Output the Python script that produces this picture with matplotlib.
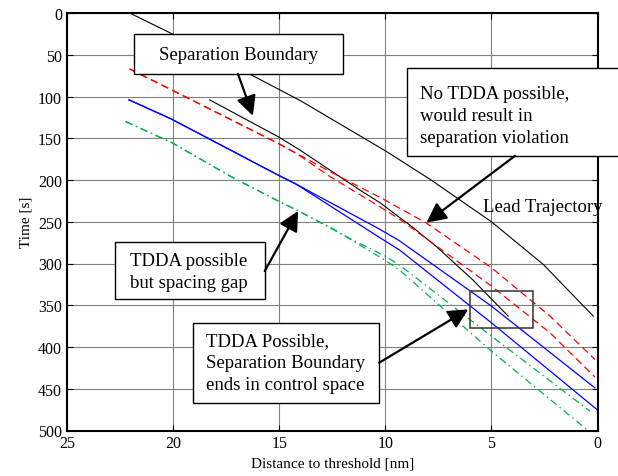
import matplotlib
matplotlib.use("Agg")
import matplotlib.pyplot as plt
from matplotlib.patches import Rectangle

plt.rcParams['font.family'] = ['Liberation Serif', 'DejaVu Serif']

# data: distance [nm] and time [s]
lead_d = [22.05, 20.2, 16.55, 14.0, 11.2, 10.0, 7.9, 5.0, 2.56, 0.2]
lead_t = [0, 23, 71, 105, 147, 165, 199, 250, 301, 363]

sep_d = [18.28, 15.06, 14.03, 11.2, 10.26, 8.69, 7.58, 5.86, 4.21]
sep_t = [104, 148, 164, 212, 227, 257, 280, 320, 363]

red1_d = [22.05, 20.08, 15.06, 14.2, 12.6, 10.02, 8.1, 5.0, 2.24, 0.12]
red1_t = [67, 92, 156, 168, 190, 224, 251, 305, 363, 415]
red2_d = [22.05, 20.08, 15.06, 14.2, 12.6, 10.26, 9.32, 5.0, 2.24, 0.12]
red2_t = [67, 92, 156, 168, 196, 232, 247, 327, 383, 436]

blue1_d = [22.08, 20.08, 15.06, 14.2, 10.26, 9.32, 5.0, 0.12]
blue1_t = [104, 127, 194, 205, 259, 273, 351, 449]
blue2_d = [22.08, 20.08, 15.06, 14.2, 10.26, 9.32, 5.0, 0.02]
blue2_t = [104, 127, 194, 205, 269, 284, 371, 475]

green1_d = [22.24, 20.08, 17.34, 15.06, 14.1, 11.67, 10.02, 9.32, 5.0, 0.35]
green1_t = [130, 155, 195, 225, 237, 270, 291, 302, 387, 477]
green2_d = [22.24, 20.08, 17.34, 15.06, 14.1, 12.5, 10.02, 9.32, 5.0, 0.45]
green2_t = [130, 155, 195, 225, 237, 258, 296, 308, 405, 500]

x_ticks = [25, 20, 15, 10, 5, 0]
y_ticks = [0, 50, 100, 150, 200, 250, 300, 350, 400, 450, 500]

fig = plt.figure(figsize=(6.18, 4.77), dpi=100)
ax = fig.add_axes([67 / 618, 1 - 431.5 / 477, 530.5 / 618, 417.5 / 477])

lw = 0.9
ax.plot(lead_d, lead_t, color='black', lw=0.8)
ax.plot(sep_d, sep_t, color='black', lw=0.8)
for d, t in [(red1_d, red1_t), (red2_d, red2_t)]:
    ax.plot(d, t, color='#ff0000', lw=lw, dashes=(6, 3.5))
for d, t in [(blue1_d, blue1_t), (blue2_d, blue2_t)]:
    ax.plot(d, t, color='#0000ff', lw=lw)
for d, t in [(green1_d, green1_t), (green2_d, green2_t)]:
    ax.plot(d, t, color='#00b050', lw=lw, dashes=(6, 3, 1.2, 3))

ax.set_xlim(25, 0)
ax.set_ylim(500, 0)
ax.set_xticks(x_ticks)
ax.set_yticks(y_ticks)
ax.grid(True, color='#808080', lw=0.8)
ax.set_axisbelow(True)
ax.tick_params(direction='in', top=True, right=True, labelsize=11.5, length=4)
for s in ax.spines.values():
    s.set_linewidth(1.5)
ax.set_xlabel("Distance to threshold [nm]", fontsize=11)
ax.set_ylabel("Time [s]", fontsize=11)

fs = 13.5
ls = 1.38
arrow = dict(arrowstyle='-|>,head_length=1.2,head_width=0.6', color='black', lw=1.6,
             shrinkA=0, shrinkB=0)

# Separation Boundary box
ax.add_patch(Rectangle((21.86, 25.2), 12.0 - 21.86, 73.1 - 25.2, fc='white', ec='black',
                       lw=1, zorder=5, clip_on=False))
ax.text(16.91, 50, "Separation Boundary", fontsize=fs, ha='center', va='center', zorder=6)
ax.annotate("", xy=(16.24, 123.1), xytext=(16.94, 73.1), arrowprops=arrow, zorder=6)

# No TDDA box
ax.add_patch(Rectangle((9.0, 66.3), -10.0, 171.1 - 66.3, fc='white', ec='black',
                       lw=1, zorder=5, clip_on=False))
ax.text(8.37, 122.3, "No TDDA possible,\nwould result in\nseparation violation",
        fontsize=fs, ha='left', va='center', zorder=6, linespacing=ls)
ax.annotate("", xy=(8.06, 251), xytext=(3.89, 171.1), arrowprops=arrow, zorder=6)

ax.text(5.40, 231.4, "Lead Trajectory", fontsize=fs, ha='left', va='center', zorder=6,
        clip_on=False)

# TDDA possible but spacing gap
ax.add_patch(Rectangle((22.76, 274.2), 15.68 - 22.76, 342.9 - 274.2, fc='white', ec='black',
                       lw=1, zorder=5))
ax.text(22.05, 309.5, "TDDA possible\nbut spacing gap", fontsize=fs, ha='left', va='center',
        zorder=6, linespacing=ls)
ax.annotate("", xy=(14.11, 237), xytext=(15.68, 309), arrowprops=arrow, zorder=6)

# TDDA Possible, boundary ends
ax.add_patch(Rectangle((19.07, 370.9), 10.29 - 19.07, 466.8 - 370.9, fc='white', ec='black',
                       lw=1, zorder=5))
ax.text(18.43, 418.8, "TDDA Possible,\nSeparation Boundary\nends in control space",
        fontsize=fs, ha='left', va='center', zorder=6, linespacing=ls)
ax.annotate("", xy=(6.09, 354.9), xytext=(10.29, 418.8), arrowprops=arrow, zorder=6)

ax.add_patch(Rectangle((6.01, 333), 3.05 - 6.01, 377 - 333, fill=False, ec='#333333',
                       lw=1.1, zorder=4))

fig.savefig("out.png", dpi=100)
